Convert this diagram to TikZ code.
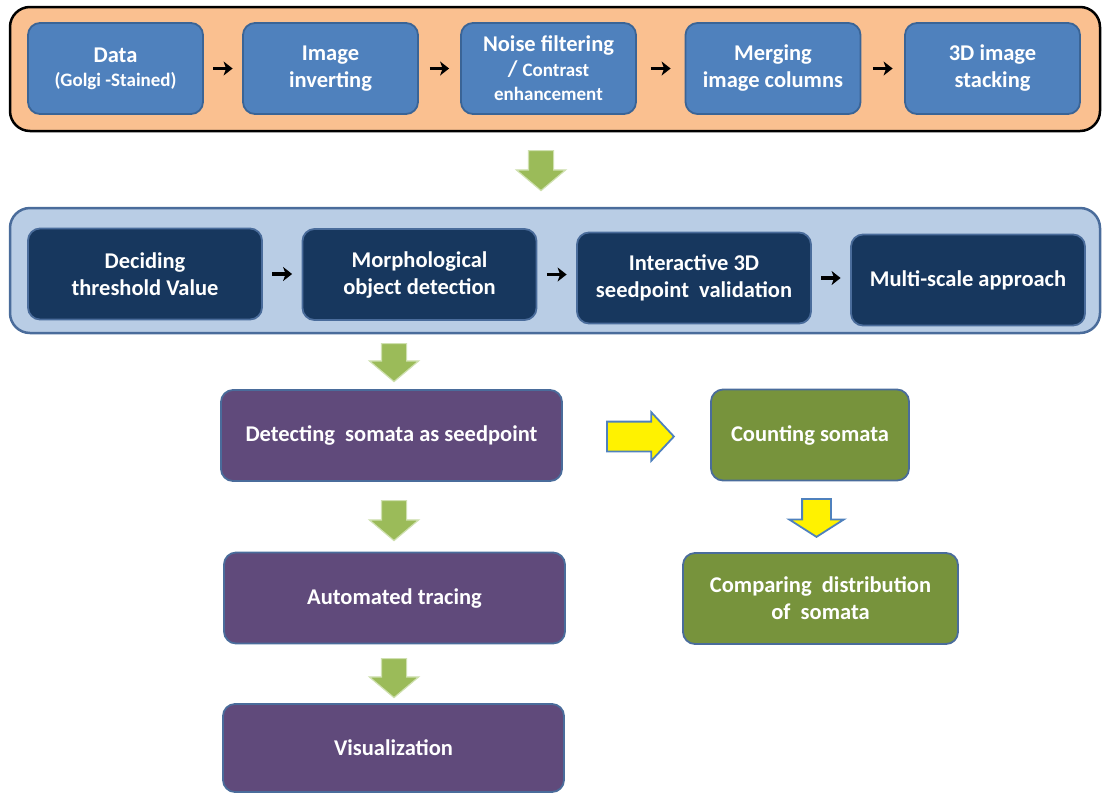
\documentclass[tikz,border=0pt]{standalone}
\usepackage{fontspec}
\setmainfont{Carlito}
\usetikzlibrary{arrows.meta,positioning,shapes.arrows}

\definecolor{peach}{HTML}{FAC090}
\definecolor{prepfill}{HTML}{4F81BD}
\definecolor{prepedge}{HTML}{3A6496}
\definecolor{segpanel}{HTML}{B9CDE5}
\definecolor{segedge}{HTML}{4A6C9B}
\definecolor{segfill}{HTML}{17375E}
\definecolor{tracefill}{HTML}{604A7B}
\definecolor{countfill}{HTML}{77933C}
\definecolor{flowgreen}{HTML}{9BBB59}
\definecolor{flowglow}{HTML}{CFE0B0}

\begin{document}
\begin{tikzpicture}[x=1pt,y=-1pt,
  panel/.style={rounded corners=20pt,line width=2.5pt,inner sep=0pt,
    minimum width=1090pt},
  stepbox/.style={rounded corners=12pt,line width=1.8pt,text=white,
    font=\bfseries\fontsize{22.5}{27}\selectfont,align=center,inner sep=0pt,
    minimum height=91pt},
  prepbox/.style={stepbox,fill=prepfill,draw=prepedge,minimum width=175pt},
  segbox/.style={stepbox,fill=segfill,draw=segedge,minimum width=234pt},
  tracebox/.style={stepbox,fill=tracefill,draw=segedge,minimum width=341pt},
  countbox/.style={stepbox,fill=countfill,draw=segedge},
  arr/.style={-{Stealth[length=9pt,width=14pt,inset=2.5pt]},line width=3.6pt},
  garrow/.style={single arrow,shape border rotate=270,fill=flowgreen,
    draw=flowglow,line width=1.2pt,inner sep=12pt,anchor=tail,
    minimum width=48pt,single arrow head extend=12pt,
    single arrow tip angle=100},
  yarrow/.style={single arrow,fill=yellow,draw=prepfill,line width=1.8pt,
    anchor=tail}]
  \useasboundingbox (0,0) rectangle (1102,793);

  % preprocessing panel
  \node[panel,fill=peach,draw=black,minimum height=124pt] (prep) at (555,69) {};
  \node[prepbox] (data) at (115.5,68.5)
    {Data\\[-3pt]{\fontsize{19}{22}\selectfont(Golgi -Stained)}};
  \node[prepbox] (invert) at (330.5,68.5) {Image\\inverting};
  \node[prepbox] (noise) at (548.5,68.5)
    {Noise filtering\\[-2pt]/ {\fontsize{19}{22}\selectfont Contrast}\\[-3pt]
     {\fontsize{19}{22}\selectfont enhancement}};
  \node[prepbox] (merge) at (773,68.5) {Merging\\image columns};
  \node[prepbox] (stack) at (992.5,68.5) {3D image\\stacking};
  \foreach \a/\b/\s in {data/invert/9.5,invert/noise/11,noise/merge/14,
                        merge/stack/11.5}
    \draw[arr,shorten <=\s pt,shorten >=\s pt] (\a) -- (\b);

  % segmentation panel
  \node[panel,fill=segpanel,draw=segedge,minimum height=125pt] (seg)
    at (555,270.5) {};
  \node[segbox] (thresh) at (145,274) {Deciding\\threshold Value};
  \node[segbox] (morph) at (419.5,274.5) {Morphological\\object detection};
  \node[segbox] (inter) at (694,278) {Interactive 3D\\seedpoint~ validation};
  \node[segbox] (multi) at (968,280) {Multi-scale approach};
  \foreach \a/\b in {thresh/morph,morph/inter,inter/multi}
    \draw[arr,shorten <=9.5pt,shorten >=9.5pt] (\a.east) -- (\a.east -| \b.west);

  % tracing column
  \node[tracebox] (detect) at (391.5,435.5) {Detecting~ somata as seedpoint};
  \node[tracebox] (trace) at (394.5,598) {Automated tracing};
  \node[tracebox,minimum height=88pt] (vis) at (393.5,748) {Visualization};

  % counting column
  \node[countbox,minimum width=198pt] (count) at (810,435) {Counting somata};
  \node[countbox,minimum width=275pt] (compare) at (820.5,598.5)
    {Comparing~ distribution\\of~ somata};

  % block arrows
  \node[garrow,minimum height=40pt] (g1) at (541,150) {};
  \node[garrow,minimum height=38pt] (g2) at (394,343) {};
  \node[garrow,minimum height=40pt] (g3) at (394,500) {};
  \node[garrow,minimum height=39pt] (g4) at (394,658) {};
  \node[yarrow,inner sep=14pt,minimum height=67pt,minimum width=47pt,
    single arrow head extend=9.5pt,single arrow tip angle=94]
    (y1) at (606,436.5) {};
  \node[yarrow,inner sep=13.5pt,shape border rotate=270,minimum height=35pt,
    minimum width=53pt,single arrow head extend=13pt,
    single arrow tip angle=115]
    (y2) at (816.5,498) {};
\end{tikzpicture}
\end{document}
